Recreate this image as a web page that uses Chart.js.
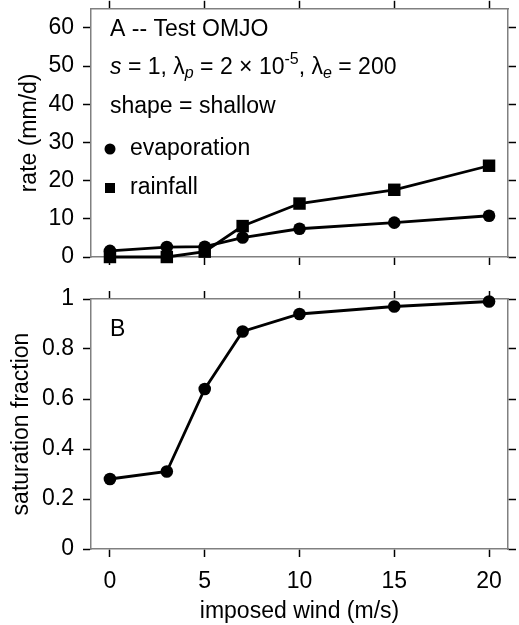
<!DOCTYPE html>
<html lang="en">
<head>
    <meta charset="UTF-8">
    <title>Test OMJO</title>
    <script src="https://cdn.jsdelivr.net/npm/chart.js"></script>
    <style>
        body { margin: 0; padding: 0; background: #fff; }
        #wrap { position: relative; width: 519px; height: 625px; }
        #topChart { position: absolute; left: 0; top: 0; }
        #botChart { position: absolute; left: 0; top: 270px; }
    </style>
</head>
<body>
<div id="wrap">
    <canvas id="topChart" width="519" height="270"></canvas>
    <canvas id="botChart" width="519" height="355"></canvas>
</div>
<script>
    // data
    const windSpeed = [0, 3, 5, 7, 10, 15, 20];
    const evaporation = [1.6, 2.6, 2.7, 5.1, 7.4, 9.0, 10.8];
    const rainfall = [0.0, 0.0, 1.4, 8.1, 14.0, 17.6, 23.9];
    const saturation = [0.28, 0.31, 0.64, 0.87, 0.94, 0.97, 0.99];

    const windTicks = [0, 5, 10, 15, 20];
    const rateTicks = [0, 10, 20, 30, 40, 50, 60];
    const fracTicks = [0, 0.2, 0.4, 0.6, 0.8, 1];

    const FONT = "'Liberation Sans', Arial, sans-serif";
    const FS = 23;
    const pts = (ys) => windSpeed.map((x, i) => ({ x: x, y: ys[i] }));

    function axis(pos, min, max, list, size, opts) {
        opts = opts || {};
        const horiz = pos === 'top' || pos === 'bottom';
        return {
            type: 'linear',
            position: pos,
            min: min,
            max: max,
            afterBuildTicks: s => { s.ticks = list.map(v => ({ value: v })); },
            afterFit: s => {
                // fixed box sizes so both panels line up, no label overhang padding
                if (horiz) s.height = size; else s.width = size;
                s.paddingTop = 0; s.paddingBottom = 0;
                s.paddingLeft = 0; s.paddingRight = 0;
            },
            border: { display: true, color: '#808080', width: 1.5 },
            grid: { drawOnChartArea: false, drawTicks: true, tickLength: 8, tickColor: '#000', tickWidth: 1.5 },
            ticks: {
                display: !!opts.labels,
                color: '#000',
                padding: opts.pad || 6,
                maxRotation: 0,
                font: { family: FONT, size: FS },
                callback: v => String(v)
            },
            title: {
                display: !!opts.title,
                text: opts.title || '',
                color: '#000',
                font: { family: FONT, size: FS },
                padding: opts.titlePad || { top: 0, bottom: 0 }
            }
        };
    }

    function lineSet(label, ys, style, r) {
        return {
            label: label,
            data: pts(ys),
            borderColor: '#000',
            backgroundColor: '#000',
            borderWidth: 2.8,
            pointStyle: style,
            pointRadius: r,
            pointBorderWidth: 0,
            showLine: true,
            clip: false
        };
    }

    // text labels drawn inside the top panel
    const topNotes = {
        id: 'topNotes',
        afterDraw(chart) {
            const c = chart.ctx;
            c.save();
            c.fillStyle = '#000';
            c.textBaseline = 'middle';
            c.textAlign = 'left';
            const big = FS + 'px ' + FONT;
            const small = '16px ' + FONT;
            c.font = big;
            c.fillText('A -- Test OMJO', 110, 30);

            // s = 1, λp = 2 × 10^-5, λe = 200
            const parts = [
                ['s', 'italic ' + big, 0],
                [' = 1, λ', big, 0],
                ['p', 'italic ' + small, 6],
                [' = 2 × 10', big, 0],
                ['-5', small, -8],
                [', λ', big, 0],
                ['e', 'italic ' + small, 6],
                [' = 200', big, 0]
            ];
            let x = 110;
            parts.forEach(p => {
                c.font = p[1];
                c.fillText(p[0], x, 68 + p[2]);
                x += c.measureText(p[0]).width;
            });

            c.font = big;
            c.fillText('shape = shallow', 110, 107);

            // legend
            c.beginPath();
            c.arc(110, 149, 5.5, 0, Math.PI * 2);
            c.fill();
            c.fillText('evaporation', 130, 149);
            c.fillRect(105, 183, 10, 10);
            c.fillText('rainfall', 130, 188);
            c.restore();
        }
    };

    const botNotes = {
        id: 'botNotes',
        afterDraw(chart) {
            const c = chart.ctx;
            c.save();
            c.fillStyle = '#000';
            c.textBaseline = 'middle';
            c.font = FS + 'px ' + FONT;
            c.fillText('B', 110, 60);
            c.restore();
        }
    };

    const common = {
        responsive: false,
        animation: false,
        layout: { padding: 0 },
        plugins: { legend: { display: false }, tooltip: { enabled: false } }
    };

    new Chart(document.getElementById('topChart'), {
        type: 'scatter',
        data: {
            datasets: [
                lineSet('evaporation', evaporation, 'circle', 6.3),
                lineSet('rainfall', rainfall, 'rect', 8.8)
            ]
        },
        options: Object.assign({}, common, {
            scales: {
                x: axis('bottom', -1, 21, windTicks, 13),
                x2: axis('top', -1, 21, windTicks, 7),
                y: axis('left', 0, 65, rateTicks, 91, { labels: true, pad: 9, title: 'rate (mm/d)', titlePad: { top: 16, bottom: 0 } }),
                y2: axis('right', 0, 65, rateTicks, 11)
            }
        }),
        plugins: [topNotes]
    });

    new Chart(document.getElementById('botChart'), {
        type: 'scatter',
        data: {
            datasets: [lineSet('saturation fraction', saturation, 'circle', 6.3)]
        },
        options: Object.assign({}, common, {
            scales: {
                x: axis('bottom', -1, 21, windTicks, 76, { labels: true, pad: 11, title: 'imposed wind (m/s)', titlePad: { top: 0, bottom: 0 } }),
                x2: axis('top', -1, 21, windTicks, 29),
                y: axis('left', 0, 1, fracTicks, 91, { labels: true, pad: 9, title: 'saturation fraction', titlePad: { top: 8, bottom: 0 } }),
                y2: axis('right', 0, 1, fracTicks, 11)
            }
        }),
        plugins: [botNotes]
    });
</script>
</body>
</html>
